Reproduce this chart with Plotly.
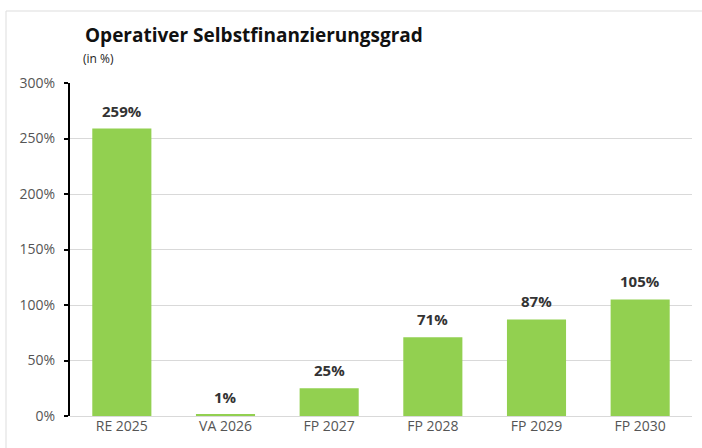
import plotly.graph_objects as go

categories = ["RE 2025", "VA 2026", "FP 2027", "FP 2028", "FP 2029", "FP 2030"]
values = [259, 1, 25, 71, 87, 105]
labels = ["259%", "1%", "25%", "71%", "87%", "105%"]
tick_vals = [0, 50, 100, 150, 200, 250, 300]
tick_text = ["0%", "50%", "100%", "150%", "200%", "250%", "300%"]

FONT = "Open Sans, Noto Sans, sans-serif"
GREEN = "#92D050"

L, R, T, B = 70, 10, 83, 32
PW, PH = 702 - L - R, 448 - T - B

def px(x):
    return (x - L) / PW

def py(y):
    return (448 - B - y) / PH

fig = go.Figure()
fig.add_trace(go.Bar(
    x=categories, y=values, marker=dict(color=GREEN, line=dict(width=0)),
    width=0.57, hoverinfo="skip",
))

for c, v, t in zip(categories, values, labels):
    fig.add_annotation(x=c, y=v, text=f"<b>{t}</b>", showarrow=False,
                       yanchor="bottom", yshift=6,
                       font=dict(family=FONT, size=15, color="#333333"))

fig.update_layout(
    width=702, height=448,
    margin=dict(l=L, r=R, t=T, b=B),
    paper_bgcolor="white", plot_bgcolor="white",
    showlegend=False,
    font=dict(family=FONT, size=14, color="#555555"),
    xaxis=dict(showgrid=False, showline=False, ticks="",
               tickfont=dict(family=FONT, size=14, color="#555555"),
               range=[-0.5, 5.5], fixedrange=True),
    yaxis=dict(range=[0, 300], tickvals=tick_vals, ticktext=tick_text,
               showgrid=True, gridcolor="#D9D9D9", gridwidth=1,
               zeroline=True, zerolinecolor="#D9D9D9", zerolinewidth=1,
               showline=True, linecolor="#000000", linewidth=2,
               ticks="outside", ticklen=4, tickcolor="#000000", tickwidth=1.5,
               ticklabelstandoff=6,
               tickfont=dict(family=FONT, size=14, color="#555555"),
               layer="above traces",
               fixedrange=True),
)

fig.add_shape(type="rect", xref="paper", yref="paper",
              x0=px(6), x1=px(710), y0=py(460), y1=py(11),
              line=dict(color="#DDDDDD", width=1), layer="below")

fig.add_annotation(xref="paper", yref="paper", x=px(83), y=py(35),
                   text="<b>Operativer Selbstfinanzierungsgrad</b>", showarrow=False,
                   xanchor="left", yanchor="middle",
                   font=dict(family=FONT, size=19, color="#111111"))
fig.add_annotation(xref="paper", yref="paper", x=px(81), y=py(58),
                   text="(in %)", showarrow=False,
                   xanchor="left", yanchor="middle",
                   font=dict(family=FONT, size=12, color="#222222"))

fig.write_html("out.html", post_script="document.body.style.margin='0px';",
               config={"displayModeBar": False})
